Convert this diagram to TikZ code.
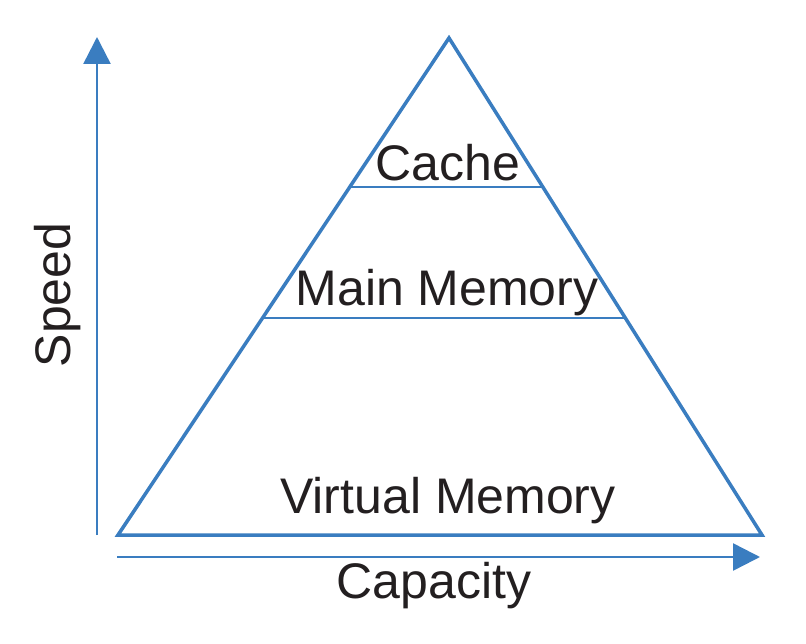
\documentclass[tikz,border=0pt]{standalone}
\usepackage{fontspec}
\setmainfont{Liberation Sans}
\usetikzlibrary{arrows.meta,calc}
\definecolor{lineblue}{HTML}{3A7DC0}
\definecolor{txt}{HTML}{231F20}
\tikzset{
  tri/.style={draw=lineblue, line width=3.5pt, line join=miter},
  level/.style={draw=lineblue, line width=2pt},
  axis/.style={draw=lineblue, line width=2.5pt, -{Triangle[length=27pt,width=27pt]}},
  lbl/.style={text=txt, font=\fontsize{50}{60}\selectfont, inner sep=0pt}
}
\begin{document}
\begin{tikzpicture}[x=1pt,y=-1pt]
\useasboundingbox (0,0) rectangle (806,644);
\fill[white] (0,0) rectangle (806,644);
\coordinate (top) at (449,38);
\coordinate (bl) at (118,535);
\coordinate (br) at (762,535);
\draw[tri] (top) -- (bl) -- (br) -- cycle;
\coordinate (c1) at ($(top)!0.3!(bl)$);
\coordinate (c2) at ($(top)!0.3!(br)$);
\coordinate (m1) at ($(top)!0.5634!(bl)$);
\coordinate (m2) at ($(top)!0.5634!(br)$);
\draw[level] (c1) -- (c2);
\draw[level] (m1) -- (m2);
\node[lbl] (cache) at (448,163) {Cache};
\node[lbl] (main) at (447,293) {Main Memory};
\node[lbl] (virt) at (448,501) {Virtual Memory};
\coordinate (vs) at (97,535);
\coordinate (ve) at (97,37);
\draw[axis] (vs) -- (ve);
\coordinate (hs) at (117,557);
\coordinate (he) at (760,557);
\draw[axis] (hs) -- (he);
\node[lbl] (cap) at (434,586) {Capacity};
\node[lbl, rotate=90] (speed) at (58,295) {Speed};
\end{tikzpicture}
\end{document}
